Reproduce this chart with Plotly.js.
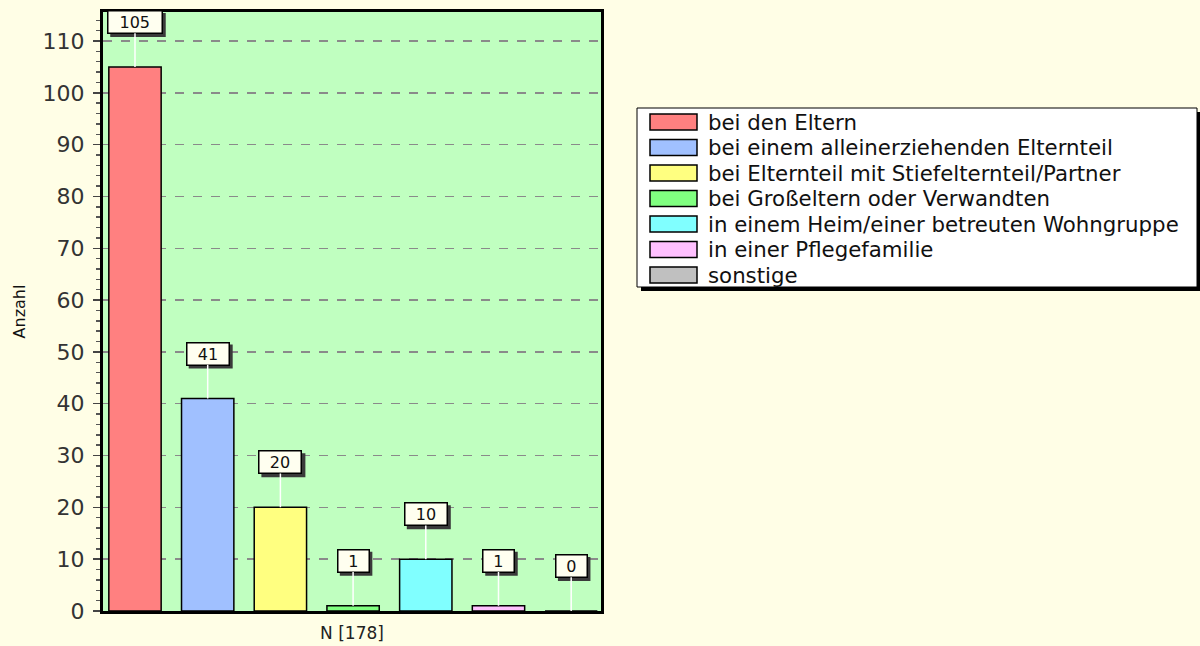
<!DOCTYPE html>
<html>
<head>
<meta charset="utf-8">
<script src="https://cdn.plot.ly/plotly-3.0.1.min.js"></script>
<style>
html,body{margin:0;padding:0;background:#fffee6;}
#chart{width:1200px;height:646px;}
</style>
</head>
<body>
<div id="chart"></div>
<script>
// ---- data ----
const categories = [
  "bei den Eltern",
  "bei einem alleinerziehenden Elternteil",
  "bei Elternteil mit Stiefelternteil/Partner",
  "bei Großeltern oder Verwandten",
  "in einem Heim/einer betreuten Wohngruppe",
  "in einer Pflegefamilie",
  "sonstige"
];
const values = [105, 41, 20, 1, 10, 1, 0];
const barColors = ["#ff8080", "#a0c0ff", "#ffff80", "#80ff80", "#80ffff", "#ffc0ff", "#c0c0c0"];
const yTitle = "Anzahl";
const xTitle = "N [178]";

// ---- layout helpers ----
const L = 103, R = 601, T = 12, B = 611;   // plot area in pixels
const W = 1200, H = 646;
const px = p => (p - L) / (R - L);
const py = p => (B - p) / (B - T);

const positions = categories.map((c, i) => i);

const trace = {
  type: "bar",
  x: positions,
  y: values,
  width: 0.72,
  marker: {color: barColors, line: {color: "#000", width: 1.5}},
  hoverinfo: "skip",
  showlegend: false
};

const annotations = [];
const shapes = [];
const LIFT = 45, BOXH = 19;

values.forEach((v, i) => {
  const t = String(v);
  const w = 16 + 11.5 * t.length;
  const fullW = w + 5, fullH = BOXH + 5;
  // drop shadow of the value box
  shapes.push({type: "rect", xref: "x", yref: "y",
    xsizemode: "pixel", ysizemode: "pixel",
    xanchor: positions[i], yanchor: v,
    x0: -fullW / 2 + 3, x1: fullW / 2 + 3,
    y0: LIFT - fullH / 2 - 3, y1: LIFT + fullH / 2 - 3,
    fillcolor: "#3a3a3a", line: {width: 0}, layer: "above"});
  annotations.push({
    x: positions[i], y: v, xref: "x", yref: "y",
    ax: 0, ay: -LIFT, axref: "pixel", ayref: "pixel",
    showarrow: true, arrowhead: 0, standoff: 0,
    arrowcolor: "#ffffff", arrowwidth: 1.5,
    text: t, width: w, height: BOXH, borderpad: 1, borderwidth: 1.5,
    bgcolor: "#fffff0", bordercolor: "#000",
    font: {family: "DejaVu Sans", size: 16, color: "#111"}
  });
});

// custom legend
const lgL = 637, lgR = 1197, lgT = 108, lgB = 287;
shapes.push({type: "rect", xref: "paper", yref: "paper",
  x0: px(lgL + 4), x1: px(lgR + 4), y0: py(lgB + 4), y1: py(lgT + 4),
  fillcolor: "#000", line: {width: 0}, layer: "above"});
shapes.push({type: "rect", xref: "paper", yref: "paper",
  x0: px(lgL), x1: px(lgR), y0: py(lgB), y1: py(lgT),
  fillcolor: "#ffffff", line: {color: "#000", width: 1}, layer: "above"});
categories.forEach((c, i) => {
  const cy = 122 + 25.5 * i;
  shapes.push({type: "rect", xref: "paper", yref: "paper",
    x0: px(650), x1: px(697), y0: py(cy + 8), y1: py(cy - 8),
    fillcolor: barColors[i], line: {color: "#000", width: 1.5}, layer: "above"});
  annotations.push({xref: "paper", yref: "paper", x: px(706), y: py(cy),
    xanchor: "left", yanchor: "middle", showarrow: false, text: c,
    font: {family: "DejaVu Sans", size: 21.3, color: "#111"}});
});

const layout = {
  width: W, height: H,
  paper_bgcolor: "#fffee6",
  plot_bgcolor: "#c0ffc0",
  margin: {l: L, r: W - R, t: T, b: H - B, pad: 0},
  showlegend: false,
  bargap: 0,
  xaxis: {
    range: [-0.44, 6.41], showticklabels: false, ticks: "",
    showgrid: false, zeroline: false,
    showline: true, linecolor: "#000", linewidth: 3, mirror: true,
    title: {text: xTitle, standoff: 15, font: {family: "DejaVu Sans", size: 17, color: "#222"}}
  },
  yaxis: {
    range: [0, 115.6], dtick: 10, tick0: 0,
    ticks: "outside", ticklen: 7, tickwidth: 1.5, tickcolor: "#444",
    ticklabelstandoff: 4,
    tickfont: {family: "DejaVu Sans", size: 22, color: "#333"},
    showgrid: true, gridcolor: "#8a8a8a", griddash: "dash", gridwidth: 1.5,
    zeroline: false,
    showline: true, linecolor: "#000", linewidth: 3, mirror: true,
    minor: {dtick: 2, ticklen: 4, tickwidth: 1.5, tickcolor: "#555", showgrid: false, ticks: "outside"},
    title: {text: yTitle, standoff: 13, font: {family: "DejaVu Sans", size: 16, color: "#111"}}
  },
  annotations: annotations,
  shapes: shapes
};

Plotly.newPlot("chart", [trace], layout, {displayModeBar: false, staticPlot: true});
</script>
</body>
</html>
